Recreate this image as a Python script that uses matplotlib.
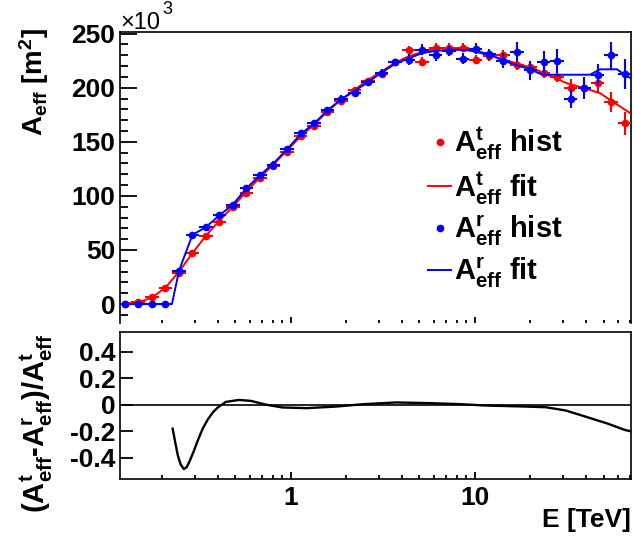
import numpy as np
import matplotlib
matplotlib.use("Agg")
import matplotlib.pyplot as plt
from matplotlib.ticker import FixedLocator, FixedFormatter, LogLocator, NullFormatter, MultipleLocator
from matplotlib.lines import Line2D

plt.rcParams['font.family'] = ['Liberation Sans', 'DejaVu Sans']
plt.rcParams['font.weight'] = 'bold'
plt.rcParams['mathtext.fontset'] = 'custom'
plt.rcParams['mathtext.rm'] = 'Liberation Sans:bold'
plt.rcParams['mathtext.it'] = 'Liberation Sans:bold'
plt.rcParams['mathtext.bf'] = 'Liberation Sans:bold'
plt.rcParams['mathtext.default'] = 'rm'
plt.rcParams['axes.unicode_minus'] = False

# bin centres [TeV]
energy = [0.125, 0.148, 0.176, 0.208, 0.247, 0.292, 0.345, 0.409, 0.484, 0.574,
          0.679, 0.804, 0.953, 1.13, 1.34, 1.58, 1.87, 2.22, 2.62, 3.11,
          3.68, 4.36, 5.16, 6.11, 7.24, 8.57, 10.1, 12.0, 14.2, 16.9,
          20.0, 23.6, 28.0, 33.1, 39.3, 46.5, 55.0, 65.2]
half_bin_dex = 0.0367

# A_eff^t hist (x10^3 m^2)
aeff_t = [0, 1.5, 6.5, 15, 29, 47, 63, 76, 90, 103,
          117, 128, 141, 155, 165, 178, 188, 198, 206, 213,
          224, 235, 224, 237, 237, 237, 226, 229, 230, 221,
          219, 214, 210, 200, 200, 204, 187, 167]
aeff_t_err = [2, 2, 2, 2, 2, 2, 2, 2, 2, 2,
              3, 3, 3, 3, 3, 3, 3, 3, 3, 3,
              3, 4, 4, 4, 4, 4, 4, 4, 5, 5,
              5, 5, 5, 8, 8, 8, 9, 11]

# A_eff^r hist (x10^3 m^2)
aeff_r = [0, 0, 0, 0, 31, 64, 71, 82, 92, 107,
          119, 129, 143, 158, 167, 179, 190, 195, 205, 214,
          224, 226, 235, 230, 234, 227, 236, 231, 225, 233,
          216, 224, 225, 190, 200, 212, 230, 213]
aeff_r_err = [1, 1, 1, 1, 2.5, 2.5, 2.5, 2.5, 2.5, 2.5,
              3, 3, 3, 3, 3, 3, 3, 3, 3, 3,
              3, 5, 5, 5, 5, 5, 5, 5, 7, 9,
              9, 10, 11, 9, 10, 10, 12.5, 14]

# fit curves
fit_t_e = [0.118, 0.125, 0.148, 0.176, 0.208, 0.247, 0.292, 0.345, 0.409, 0.484,
           0.574, 0.679, 0.804, 0.953, 1.13, 1.34, 1.58, 1.87, 2.22, 2.62,
           3.11, 3.68, 4.36, 5.16, 6.11, 7.24, 8.57, 10.1, 12.0, 13.7,
           20.7, 31.7, 38.6, 47.8, 56.2, 70.5]
fit_t = [0, 0.5, 1.5, 6, 15, 30, 47, 63, 77, 90,
         104, 117, 129, 142, 155, 166, 178, 189, 198, 207,
         215, 223, 229, 233, 236, 237, 236, 233, 230, 227,
         218, 204, 200, 195, 187, 176]

fit_r_e = [0.118, 0.226, 0.247, 0.292, 0.345, 0.409, 0.484, 0.574, 0.679, 0.804,
           0.953, 1.13, 1.34, 1.58, 1.87, 2.22, 2.62, 3.11, 3.68, 4.36,
           5.16, 6.11, 7.24, 8.57, 10.1, 12.0, 14.2, 19.9, 23.4, 42.2,
           47.8, 59.1, 67.9, 70.5]
fit_r = [0, 0, 31, 64, 71, 82, 92, 107, 119, 130,
         143, 157, 167, 179, 189, 197, 205, 214, 222, 227,
         232, 234, 235, 235, 234, 231, 225, 217, 212, 212,
         217, 217, 210, 209]

# relative difference of the fits
ratio_e = [0.228, 0.236, 0.243, 0.252, 0.262, 0.272, 0.283, 0.297, 0.312, 0.332,
           0.354, 0.378, 0.401, 0.443, 0.522, 0.606, 0.740, 0.905, 1.22, 1.76,
           2.49, 3.72, 5.62, 8.39, 11.3, 18.9, 24.3, 31.2, 40.1, 52.2,
           65.4, 70.5]
ratio = [-0.18, -0.29, -0.38, -0.45, -0.485, -0.47, -0.42, -0.35, -0.27, -0.18,
         -0.11, -0.055, -0.02, 0.022, 0.037, 0.03, 0.0, -0.02, -0.025, -0.013,
         0.005, 0.018, 0.013, 0.005, -0.005, -0.013, -0.018, -0.043, -0.09, -0.14,
         -0.19, -0.2]

ratio_ticks = [-0.4, -0.2, 0, 0.2, 0.4]
ratio_ticklabels = ['-0.4', '-0.2', '0', '0.2', '0.4']

red = '#ff0000'
blue = '#0000ff'

W, H = 634, 544
fig = plt.figure(figsize=(W / 100, H / 100), dpi=100)
ax1 = fig.add_axes([120 / W, 1 - 323 / H, 511 / W, 291 / H])
ax2 = fig.add_axes([120 / W, 1 - 479 / H, 511 / W, 147 / H])

e = np.array(energy)
xerr = [e - e * 10 ** (-half_bin_dex), e * 10 ** half_bin_dex - e]

ax1.errorbar(e, aeff_t, yerr=aeff_t_err, xerr=xerr, fmt='o', ms=4.5, color=red,
             elinewidth=1.5, capsize=0, zorder=3)
ax1.plot(fit_t_e, fit_t, color=red, lw=1.4, zorder=3)
ax1.errorbar(e, aeff_r, yerr=aeff_r_err, xerr=xerr, fmt='o', ms=4.5, color=blue,
             elinewidth=1.5, capsize=0, zorder=4)
ax1.plot(fit_r_e, fit_r, color=blue, lw=1.4, zorder=4)

ax1.set_xscale('log')
ax1.set_xlim(0.118, 70.5)
ax1.set_ylim(-17.5, 251.5)
ax1.yaxis.set_major_locator(MultipleLocator(50))
ax1.yaxis.set_minor_locator(MultipleLocator(10))
ax1.xaxis.set_major_locator(FixedLocator([1, 10]))
ax1.xaxis.set_minor_locator(LogLocator(base=10, subs=np.arange(2, 10)))
ax1.xaxis.set_minor_formatter(NullFormatter())
ax1.tick_params(axis='y', which='major', direction='in', length=12, width=1.3,
                labelsize=19, pad=3.5)
ax1.tick_params(axis='y', which='minor', direction='in', length=6, width=1.3)
ax1.tick_params(axis='x', which='major', direction='in', length=4.5, width=1.3,
                labelbottom=False)
ax1.tick_params(axis='x', which='minor', direction='in', length=2.5, width=1.3)
ax1.spines['bottom'].set_visible(False)
for s in ['top', 'left', 'right']:
    ax1.spines[s].set_linewidth(1.2)

handles = [Line2D([], [], ls='none', marker='o', ms=4.5, color=red),
           Line2D([], [], color=red, lw=1.4),
           Line2D([], [], ls='none', marker='o', ms=4.5, color=blue),
           Line2D([], [], color=blue, lw=1.4)]
labels = [r'$A^{t}_{eff}$ hist', r'$A^{t}_{eff}$ fit',
          r'$A^{r}_{eff}$ hist', r'$A^{r}_{eff}$ fit']
fig.legend(handles, labels, loc='upper left', bbox_to_anchor=(428 / W, 1 - 125 / H),
           frameon=False, fontsize=21, handlelength=0.8, handletextpad=0.1,
           labelspacing=0.25, borderpad=0, borderaxespad=0)

fig.text(120 / W, 1 - 29 / H, '×10', fontsize=17, fontweight='normal', va='baseline')
fig.text(162 / W, 1 - 1 / H, '3', fontsize=13, fontweight='normal', va='top')
fig.text(34 / W, 1 - 28 / H, r'$A_{eff}$ [m$^{2}$]', fontsize=20, rotation=90,
         ha='center', va='top')

ax2.plot(ratio_e, ratio, color='black', lw=1.7)
ax2.axhline(0, color='black', lw=1.2)
ax2.set_xscale('log')
ax2.set_xlim(0.118, 70.5)
ax2.set_ylim(-0.56, 0.55)
ax2.yaxis.set_major_locator(FixedLocator(ratio_ticks))
ax2.yaxis.set_major_formatter(FixedFormatter(ratio_ticklabels))
ax2.xaxis.set_major_locator(FixedLocator([1, 10]))
ax2.xaxis.set_major_formatter(FixedFormatter(['1', '10']))
ax2.xaxis.set_minor_locator(LogLocator(base=10, subs=np.arange(2, 10)))
ax2.xaxis.set_minor_formatter(NullFormatter())
ax2.tick_params(axis='y', which='major', direction='in', length=9, width=1.3,
                labelsize=19, pad=3.5)
ax2.tick_params(axis='x', which='major', direction='in', length=5, width=1.3,
                labelsize=19, pad=5)
ax2.tick_params(axis='x', which='minor', direction='in', length=3, width=1.3)
for s in ax2.spines.values():
    s.set_linewidth(1.2)

fig.text(36 / W, 1 - 333 / H, r'(A$^{t}_{eff}$-A$^{r}_{eff}$)/A$^{t}_{eff}$',
         fontsize=21, rotation=90, ha='center', va='top')
fig.text(631 / W, 1 - 520 / H, 'E [TeV]', fontsize=19, ha='right', va='center')

fig.savefig('out.png', dpi=100)
